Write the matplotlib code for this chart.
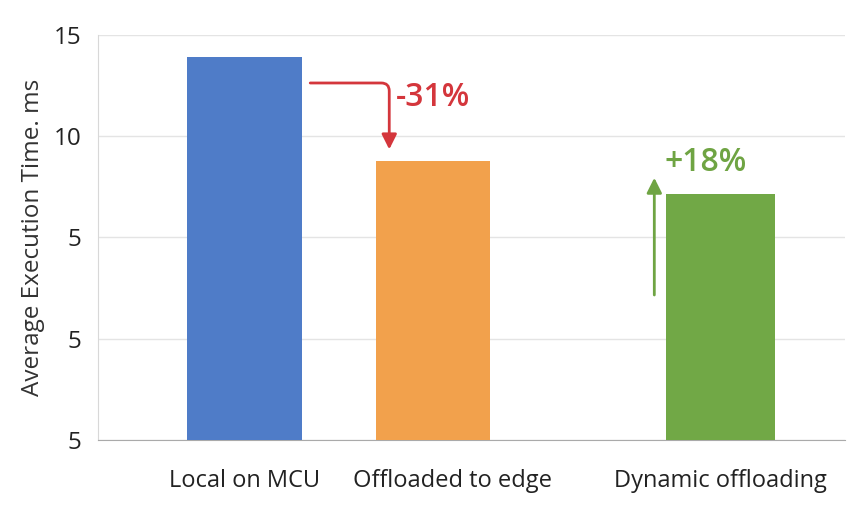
import matplotlib.pyplot as plt
from matplotlib.transforms import ScaledTranslation

plt.rcParams['font.family'] = ['Open Sans', 'DejaVu Sans']

# bar data
categories = ['Local on MCU', 'Offloaded to edge', 'Dynamic offloading']
exec_times = [18.9, 13.8, 12.15]
bar_colors = ['#4f7cc8', '#f2a14c', '#71a846']

# y ticks as printed on the axis
ytick_pos = [0, 5, 10, 15, 20]
ytick_labels = ['5', '5', '5', '10', '15']

# annotations for the change between bars
change_labels = ['-31%', '+18%']

xpos = [0.78, 1.78, 3.31]
widths = [0.61, 0.61, 0.58]

fig = plt.figure(figsize=(8.63, 5.08), dpi=100)
ax = fig.add_axes([0.1136, 0.1339, 0.8654, 0.7972])

ax.bar(xpos, exec_times, width=widths, color=bar_colors, zorder=3)

ax.set_xlim(0, 3.97)
ax.set_ylim(0, 20)
ax.set_yticks(ytick_pos)
ax.set_yticklabels(ytick_labels, fontsize=17.5, color='#222222')
ax.set_xticks(xpos)
ax.set_xticklabels(categories, fontsize=17, color='#222222')
ax.tick_params(axis='both', length=0)
ax.tick_params(axis='x', pad=21)
ax.tick_params(axis='y', pad=12)
ax.set_ylabel('Average Execution Time. ms', fontsize=17.5, color='#333333', labelpad=6)

# the middle category label sits a little right of its bar
mid = ax.get_xticklabels()[1]
mid.set_transform(mid.get_transform() + ScaledTranslation(0.2, 0, fig.dpi_scale_trans))

ax.grid(axis='y', color='#e4e4e4', linewidth=1, zorder=0)
for s in ['top', 'right']:
    ax.spines[s].set_visible(False)
ax.spines['left'].set_color('#d8d8d8')
ax.spines['bottom'].set_color('#aaaaaa')

# red bent arrow from the MCU bar down to the edge bar
red = '#d4363c'
ax.annotate('', xy=(1.548, 14.35), xytext=(1.128, 17.63),
            arrowprops=dict(arrowstyle='-|>,head_length=0.9,head_width=0.45',
                            connectionstyle='angle,angleA=0,angleB=90,rad=8',
                            color=red, lw=2, shrinkA=0, shrinkB=0))
ax.text(1.585, 16.9, change_labels[0], color=red, fontsize=23, fontweight='semibold',
        ha='left', va='center')

# green upward arrow next to the dynamic bar
green = '#6fa443'
ax.annotate('', xy=(2.957, 12.95), xytext=(2.957, 7.16),
            arrowprops=dict(arrowstyle='-|>,head_length=0.9,head_width=0.45',
                            color=green, lw=2, shrinkA=0, shrinkB=0))
ax.text(3.01, 13.68, change_labels[1], color=green, fontsize=23, fontweight='semibold',
        ha='left', va='center')

plt.savefig('out.png', dpi=100)
